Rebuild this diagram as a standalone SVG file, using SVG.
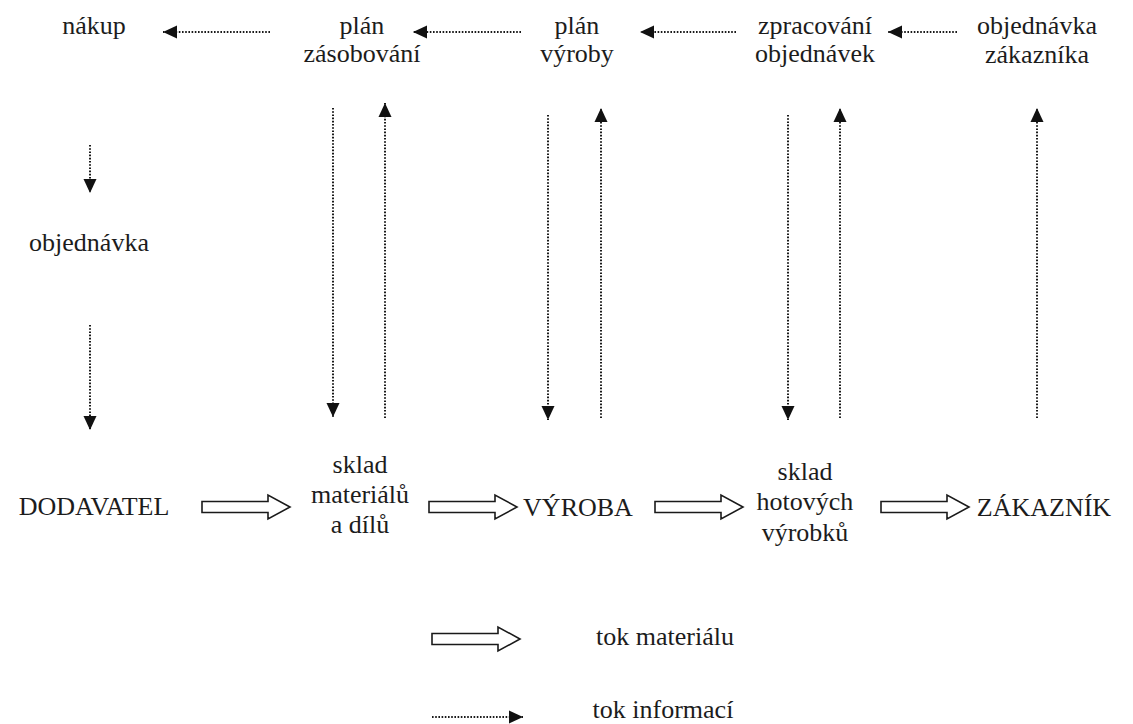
<svg xmlns="http://www.w3.org/2000/svg" width="1133" height="724" viewBox="0 0 1133 724">
<style>
text{font-family:"Liberation Serif","Times New Roman",serif;font-size:26px;fill:#1c1c1c;text-anchor:middle}
.info{stroke:#1a1a1a;stroke-width:2;stroke-dasharray:1.6 1.6;fill:none}
.mat{fill:#fff;stroke:#1a1a1a;stroke-width:1.6}
</style>
<defs>
<marker id="ah" markerUnits="userSpaceOnUse" markerWidth="15" markerHeight="14" viewBox="0 0 15 14" refX="14" refY="7" orient="auto">
<path d="M0,0.5 L14,7 L0,13.5 Z" fill="#111"/>
</marker>
<path id="blk" d="M0,-5.5 H66 V-12 L88,0 L66,12 V5.5 H0 Z"/>
</defs>
<rect width="1133" height="724" fill="#fff"/>
<g id="nakup"><text x="94" y="34">nákup</text></g>
<g id="plan-zasobovani"><text x="362" y="34">plán</text><text x="362" y="62">zásobování</text></g>
<g id="plan-vyroby"><text x="577" y="34">plán</text><text x="577" y="62">výroby</text></g>
<g id="zpracovani"><text x="815" y="34">zpracování</text><text x="815" y="62">objednávek</text></g>
<g id="objednavka-zakaznika"><text x="1037" y="34">objednávka</text><text x="1037" y="63">zákazníka</text></g>
<g id="objednavka"><text x="89" y="251">objednávka</text></g>
<g id="dodavatel"><text x="94" y="515">DODAVATEL</text></g>
<g id="sklad-materialu"><text x="360" y="473">sklad</text><text x="360" y="503">materiálů</text><text x="360" y="533">a dílů</text></g>
<g id="vyroba"><text x="578" y="516">VÝROBA</text></g>
<g id="sklad-hotovych"><text x="805" y="480">sklad</text><text x="805" y="510">hotových</text><text x="805" y="541">výrobků</text></g>
<g id="zakaznik"><text x="1044" y="516">ZÁKAZNÍK</text></g>
<g id="legend">
<use href="#blk" class="mat" x="432" y="639"/>
<text x="665" y="645">tok materiálu</text>
<line class="info" x1="432" y1="717" x2="523" y2="717" marker-end="url(#ah)"/>
<text x="663" y="718">tok informací</text>
</g>
<g id="connectors">
<line class="info" x1="270" y1="32" x2="163" y2="32" marker-end="url(#ah)"/>
<line class="info" x1="521" y1="32" x2="413" y2="32" marker-end="url(#ah)"/>
<line class="info" x1="736" y1="32" x2="640" y2="32" marker-end="url(#ah)"/>
<line class="info" x1="957" y1="32" x2="888" y2="32" marker-end="url(#ah)"/>
<line class="info" x1="90" y1="145" x2="90" y2="193" marker-end="url(#ah)"/>
<line class="info" x1="90" y1="325" x2="90" y2="430" marker-end="url(#ah)"/>
<line class="info" x1="333" y1="108" x2="333" y2="417" marker-end="url(#ah)"/>
<line class="info" x1="385" y1="418" x2="385" y2="103" marker-end="url(#ah)"/>
<line class="info" x1="548" y1="115" x2="548" y2="420" marker-end="url(#ah)"/>
<line class="info" x1="601" y1="418" x2="601" y2="108" marker-end="url(#ah)"/>
<line class="info" x1="788" y1="115" x2="788" y2="420" marker-end="url(#ah)"/>
<line class="info" x1="840" y1="418" x2="840" y2="108" marker-end="url(#ah)"/>
<line class="info" x1="1037" y1="418" x2="1037" y2="108" marker-end="url(#ah)"/>
<use href="#blk" class="mat" x="202" y="507"/>
<use href="#blk" class="mat" x="429" y="507"/>
<use href="#blk" class="mat" x="655" y="507"/>
<use href="#blk" class="mat" x="881" y="507"/>
</g>
</svg>
